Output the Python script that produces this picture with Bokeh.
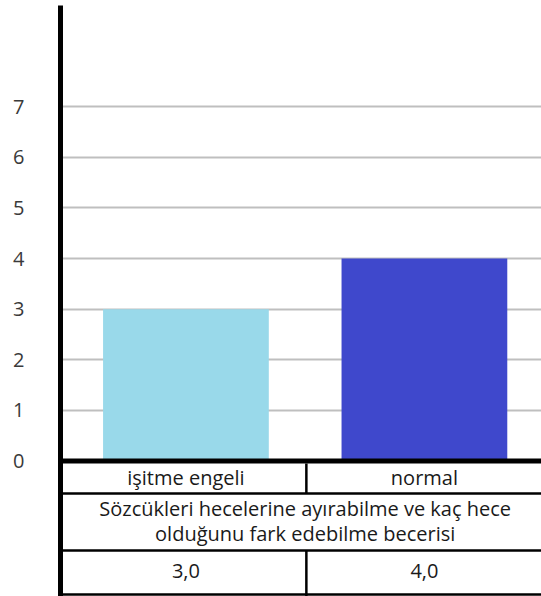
from bokeh.plotting import figure
from bokeh.models import Range1d, FixedTicker, Span
from bokeh.embed import file_html
from bokeh.resources import INLINE
from bokeh.core.properties import value

# Chart data
categories = ["işitme engeli", "normal"]
scores = [3.0, 4.0]
bar_colors = ["#99D9EA", "#3F48CC"]
skill_lines = ["Sözcükleri hecelerine ayırabilme ve kaç hece",
               "olduğunu fark edebilme becerisi"]
y_ticks = [0, 1, 2, 3, 4, 5, 6, 7]

FONT = "Open Sans"
positions = list(range(len(categories)))
score_labels = [f"{v:.1f}".replace(".", ",") for v in scores]

W, H = 541, 596
TOP = 5

# Value scale: 0 sits on the thick baseline, the rest of the frame below it
# holds the data table.
p = figure(width=W, height=H,
           x_range=Range1d(-0.526, 1.491), y_range=Range1d(-2.678, 9.0),
           output_backend="svg", toolbar_location=None,
           min_border_left=60, min_border_right=0,
           min_border_top=TOP, min_border_bottom=0)
p.outline_line_color = None
p.background_fill_color = "white"
p.xaxis.visible = False
p.xgrid.visible = False

# second vertical scale in screen pixels (top = 5, bottom = 596) for the table rows
p.extra_y_ranges = {"table": Range1d(start=H, end=TOP)}

p.vbar(x=positions, top=scores, bottom=0, width=0.695,
       fill_color=bar_colors, line_color=None)

ax = p.yaxis[0]
ax.ticker = FixedTicker(ticks=y_ticks)
ax.axis_line_width = 5
ax.axis_line_color = "black"
ax.major_tick_line_color = None
ax.minor_tick_line_color = None
ax.major_label_text_font = FONT
ax.major_label_text_font_size = "20px"
ax.major_label_text_color = "#3a3a3a"
ax.major_label_standoff = 30

p.ygrid.ticker = FixedTicker(ticks=y_ticks)
p.ygrid.grid_line_color = "#BFBFBF"
p.ygrid.grid_line_width = 2

# thick baseline, which is also the top border of the table
p.add_layout(Span(location=0, dimension="width", line_color="black", line_width=5))

# ---- data table under the bars ----
x0, x1 = p.x_range.start, p.x_range.end
rules = [493, 550, 594]
p.segment(x0=[x0] * 3, x1=[x1] * 3, y0=rules, y1=rules,
          line_color="black", line_width=2.5, y_range_name="table")
divider = 0.505
p.segment(x0=[divider, divider], x1=[divider, divider], y0=[463, 550], y1=[493, H],
          line_color="black", line_width=2.5, y_range_name="table")

text_style = dict(text_font=value(FONT), text_font_size="20px", text_color="#1a1a1a",
                  text_align="center", text_baseline="middle", y_range_name="table")
p.text(x=positions, y=[477] * len(categories), text=categories, **text_style)
p.text(x=[0.5] * len(skill_lines), y=[508, 533], text=skill_lines, **text_style)
p.text(x=positions, y=[570] * len(score_labels), text=score_labels, **text_style)

open("out.html", "w").write(file_html(p, INLINE))
